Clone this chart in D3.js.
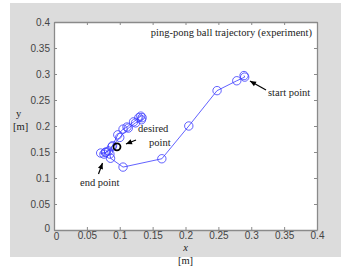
<!DOCTYPE html>
<html><head><meta charset="utf-8">
<script src="https://cdn.jsdelivr.net/npm/d3@7"></script>
<style>body{margin:0;background:#fff}svg{display:block}</style>
</head><body><svg id="c" width="341" height="271"></svg>
<script>
const xTicks=[0,0.05,0.1,0.15,0.2,0.25,0.3,0.35,0.4];
const yTicks=[0,0.05,0.1,0.15,0.2,0.25,0.3,0.35,0.4];
const xTickLabels=["0","0.05","0.1","0.15","0.2","0.25","0.3","0.35","0.4"];
const yTickLabels=["0","0.05","0.1","0.15","0.2","0.25","0.3","0.35","0.4"];
const trajX=[0.289,0.290,0.278,0.248,0.205,0.164,0.105,0.086,0.085,0.088,0.097,0.105,0.111,0.121,0.129,0.132,0.134,0.133,0.124,0.113,0.100,0.089,0.083,0.078,0.071,0.076,0.079];
const trajY=[0.297,0.294,0.287,0.268,0.200,0.137,0.121,0.138,0.146,0.160,0.183,0.194,0.198,0.208,0.216,0.219,0.216,0.212,0.206,0.196,0.178,0.162,0.152,0.149,0.148,0.146,0.150];
const desired=[0.0958,0.160];
const titleText="ping-pong ball trajectory (experiment)";

const svg=d3.select("#c");
svg.append("rect").attr("x",10).attr("y",3).attr("width",331).attr("height",254).attr("fill","#dcdcdc");
const L=54,R=317,T=22,B=230;
const x=d3.scaleLinear().domain([0,0.4]).range([L,R]);
const y=d3.scaleLinear().domain([0,0.4]).range([B,T]);
svg.append("rect").attr("x",L).attr("y",T).attr("width",R-L).attr("height",B-T).attr("fill","#fff");
const gc="#8a8a8a";
const xAx=d3.axisBottom(x).tickValues(xTicks).tickFormat((d,i)=>xTickLabels[i]).tickSizeInner(-3).tickSizeOuter(0).tickPadding(2);
const yAx=d3.axisLeft(y).tickValues(yTicks).tickFormat((d,i)=>yTickLabels[i]).tickSizeInner(-3).tickSizeOuter(0).tickPadding(4);
const gx=svg.append("g").attr("transform",`translate(0,${B})`).call(xAx);
const gy=svg.append("g").attr("transform",`translate(${L},0)`).call(yAx);
const gx2=svg.append("g").attr("transform",`translate(0,${T})`).call(d3.axisTop(x).tickValues(xTicks).tickFormat("").tickSizeInner(-3).tickSizeOuter(0));
const gy2=svg.append("g").attr("transform",`translate(${R},0)`).call(d3.axisRight(y).tickValues(yTicks).tickFormat("").tickSizeInner(-3).tickSizeOuter(0));
[gx,gy,gx2,gy2].forEach(g=>{g.select(".domain").attr("stroke",gc).attr("stroke-width",1.3);g.selectAll(".tick line").attr("stroke",gc);
 g.selectAll("text").attr("fill","#444").style("font-family","Liberation Sans, Arial, sans-serif").style("font-size","10px");});
gx.selectAll(".tick").filter(d=>d===0).select("text").attr("dx",2).attr("dy","0.8em");
gy.selectAll(".tick").filter(d=>d===0).select("text").attr("dy","0.1em");

const pts=trajX.map((v,i)=>[v,trajY[i]]);
svg.append("path").datum(pts).attr("d",d3.line().x(d=>x(d[0])).y(d=>y(d[1]))).attr("fill","none").attr("stroke","#3a3aff").attr("stroke-width",0.8);
svg.selectAll("circle.p").data(pts).enter().append("circle").attr("class","p").attr("cx",d=>x(d[0])).attr("cy",d=>y(d[1])).attr("r",4.2).attr("fill","none").attr("stroke","#3a3aff").attr("stroke-width",0.8);
svg.append("circle").attr("cx",x(desired[0])).attr("cy",y(desired[1])).attr("r",3.5).attr("fill","none").attr("stroke","#000").attr("stroke-width",1.8);

const serif="Liberation Serif, Times New Roman, serif";
function txt(t,xx,yy,anchor,extra){const e=svg.append("text").attr("x",xx).attr("y",yy).attr("text-anchor",anchor||"start").style("font-family",serif).style("font-size","10.5px").attr("fill","#222").text(t);if(extra)extra(e);return e;}
txt(titleText,312,36,"end");
txt("start point",268,96);
txt("desired",138,132);
txt("point",149,146);
txt("end point",80,186);
txt("x",185.5,251,"middle",e=>e.style("font-style","italic"));
txt("[m]",185.5,264,"middle");
txt("y",16,117,"start");
txt("[m]",13,130,"start");

function arrow(x1,y1,x2,y2){
 svg.append("line").attr("x1",x1).attr("y1",y1).attr("x2",x2).attr("y2",y2).attr("stroke","#000").attr("stroke-width",1.2);
 const a=Math.atan2(y2-y1,x2-x1),l=6,w=2.6;
 const p=[[x2,y2],[x2-l*Math.cos(a)+w*Math.sin(a),y2-l*Math.sin(a)-w*Math.cos(a)],[x2-l*Math.cos(a)-w*Math.sin(a),y2-l*Math.sin(a)+w*Math.cos(a)]];
 svg.append("path").attr("d","M"+p.join("L")+"Z").attr("fill","#000");
}
arrow(266,90,250,81);
arrow(136,140,126,144);
arrow(98.5,174,102.5,163);
</script></body></html>
